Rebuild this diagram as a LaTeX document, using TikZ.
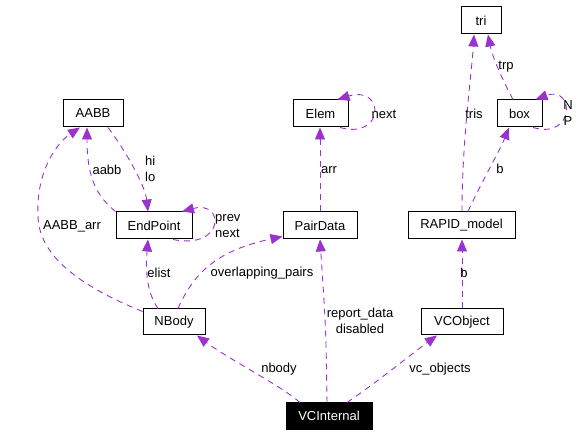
\documentclass[tikz,border=0pt]{standalone}
\usepackage{fontspec}
\setmainfont{Liberation Sans}
\usetikzlibrary{arrows.meta}
\definecolor{edgecol}{HTML}{9A32CD}
\begin{document}
\begin{tikzpicture}[x=1pt,y=-1pt,
  cls/.style={draw=black, line width=1pt, minimum height=27pt, inner sep=0pt, font=\fontsize{13}{16}\selectfont},
  dep/.style={draw=edgecol, line width=0.9pt, dash pattern=on 6pt off 5pt, -{Triangle[length=12pt,width=10pt]}},
  lbl/.style={font=\fontsize{13}{16}\selectfont, inner sep=0pt, align=center}]
\useasboundingbox (0,0) rectangle (581,435);
% nodes
\node[cls, minimum width=40pt] (tri) at (481,20.5) {tri};
\node[cls, minimum width=45pt] (box) at (519.5,113.5) {box};
\node[cls, minimum width=55pt] (Elem) at (320.5,113.5) {Elem};
\node[cls, minimum width=60pt] (AABB) at (93,113.5) {AABB};
\node[cls, minimum width=76pt] (EndPoint) at (154,225.5) {EndPoint};
\node[cls, minimum width=74pt] (PairData) at (320,225.5) {PairData};
\node[cls, minimum width=107pt] (RAPID) at (461.5,225.5) {RAPID\_model};
\node[cls, minimum width=62pt, minimum height=26pt] (NBody) at (174,322) {NBody};
\node[cls, minimum width=82pt, minimum height=26pt] (VCObject) at (462,322) {VCObject};
\node[cls, minimum width=86pt, minimum height=26pt, fill=black, text=white] (VCInternal) at (329,416) {VCInternal};
% edges
\draw[dep] (EndPoint.north west) .. controls (95,195) and (87,175) .. ([xshift=-6pt]AABB.south);
\draw[dep] ([xshift=15pt]AABB.south) .. controls (125,150) and (145,185) .. ([xshift=-6pt]EndPoint.north);
\draw[dep] ([yshift=-3pt]NBody.north west) .. controls (90,290) and (38,260) .. (38,215)
   .. controls (36,170) and (58,142) .. ([xshift=-13pt]AABB.south);
\draw[dep] ([xshift=19pt]EndPoint.south) .. controls (225,250) and (225,200) .. ([xshift=28pt]EndPoint.north);
\draw[dep] ([xshift=-16pt]NBody.north) .. controls (145,290) and (146,265) .. ([xshift=-6pt]EndPoint.south);
\draw[dep] ([xshift=4pt]NBody.north) .. controls (195,270) and (220,250) .. ([yshift=3pt]PairData.south west);
\draw[dep] ([xshift=19.5pt]Elem.south) .. controls (385,140) and (385,85) .. ([xshift=17pt]Elem.north);
\draw[dep] (PairData.north) -- (PairData.north |- Elem.south);
\draw[dep] ([xshift=0.5pt]RAPID.north) .. controls (462,140) and (472,70) .. ([xshift=-7pt]tri.south);
\draw[dep] ([xshift=-6.5pt]box.north) .. controls (500,75) and (492,55) .. ([xshift=7pt]tri.south);
\draw[dep] ([xshift=13.5pt]box.south) .. controls (575,140) and (575,85) .. ([xshift=16pt]box.north);
\draw[dep] ([xshift=6.5pt]RAPID.north) .. controls (480,185) and (500,150) .. ([xshift=-10.5pt]box.south);
\draw[dep] (VCObject.north) -- (VCObject.north |- RAPID.south);
\draw[dep] ([xshift=-29pt]VCInternal.north) .. controls (280,385) and (230,360) .. ([xshift=23pt]NBody.south);
\draw[dep] ([xshift=-2pt]VCInternal.north) .. controls (326,330) .. (PairData.south);
\draw[dep] ([xshift=18pt]VCInternal.north) .. controls (380,380) and (410,355) .. ([xshift=-25pt]VCObject.south);
% labels
\node[lbl] (l1) at (107,170) {aabb};
\node[lbl, anchor=west, align=left] (l2) at (145,169) {hi\\lo};
\node[lbl] (l3) at (72,226) {AABB\_arr};
\node[lbl, anchor=west, align=left] (l4) at (215,226) {prev\\next};
\node[lbl] (l5) at (159,273) {elist};
\node[lbl] (l6) at (262,273) {overlapping\_pairs};
\node[lbl] (l7) at (384,114) {next};
\node[lbl] (l8) at (329,170) {arr};
\node[lbl] (l9) at (474,114) {tris};
\node[lbl] (l10) at (506,67) {trp};
\node[lbl] (l11) at (568,113) {N\\P};
\node[lbl] (l12) at (500,169) {b};
\node[lbl] (l13) at (464,273) {b};
\node[lbl] (l14) at (279,369) {nbody};
\node[lbl] (l15) at (360,321) {report\_data\\disabled};
\node[lbl] (l16) at (440,369) {vc\_objects};
\end{tikzpicture}
\end{document}
